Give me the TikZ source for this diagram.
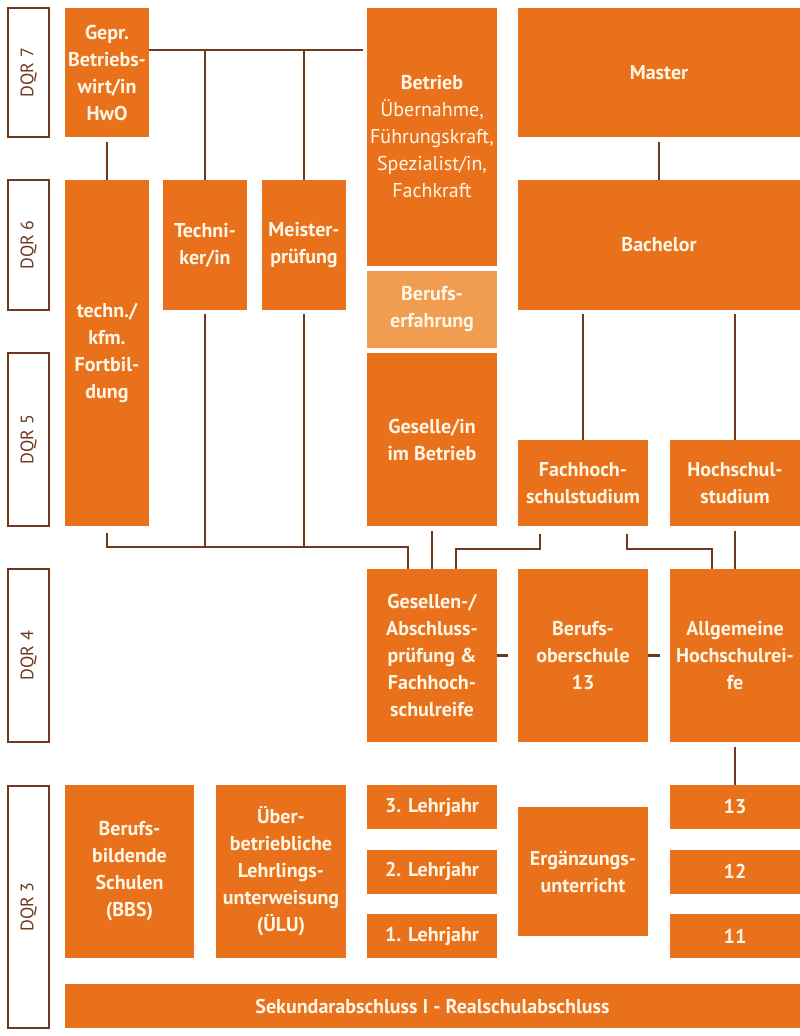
\documentclass[tikz,border=0pt]{standalone}
\usepackage{fontspec}
\setmainfont{PT Sans}
\usepackage{xcolor}
\usepackage{graphicx}
\usetikzlibrary{positioning,calc}

\definecolor{dqrorange}{RGB}{233,113,28}
\definecolor{dqrlight}{RGB}{240,157,82}
\definecolor{dqrbrown}{RGB}{110,58,30}
\definecolor{dqrtext}{RGB}{255,246,230}

\begin{document}
\begin{tikzpicture}[x=1pt, y=-1pt,
  box/.style={fill=dqrorange, text=dqrtext, font=\fontsize{20}{27}\selectfont\bfseries,
    align=center, inner sep=0pt, outer sep=0pt},
  level/.style={draw=dqrbrown, line width=1.6pt, fill=white, text=dqrbrown,
    font=\fontsize{18}{20}\selectfont, inner sep=0pt, minimum width=41pt},
  link/.style={draw=dqrbrown, line width=2.6pt}]
  \useasboundingbox (0,0) rectangle (800,1036);

  % DQR levels
  \node[level, minimum height=129pt] (dqr7) at (28.5,72.5) {\rotatebox{90}{DQR 7}};
  \node[level, minimum height=130pt] (dqr6) at (28.5,245) {\rotatebox{90}{DQR 6}};
  \node[level, minimum height=173pt] (dqr5) at (28.5,439.5) {\rotatebox{90}{DQR 5}};
  \node[level, minimum height=173pt] (dqr4) at (28.5,655.5) {\rotatebox{90}{DQR 4}};
  \node[level, minimum height=242pt] (dqr3) at (28.5,907) {\rotatebox{90}{DQR 3}};

  % Fortbildung (left columns)
  \node[box, minimum width=84pt, minimum height=129pt] (gepr) at (107,72.5) {Gepr.\\Betriebs-\\wirt/in\\HwO};
  \node[box, minimum width=84pt, minimum height=346pt] (fortb) at (107,353) {techn./\\kfm.\\Fortbil-\\dung};
  \node[box, minimum width=84pt, minimum height=130pt] (techn) at (205,245) {Techni-\\ker/in};
  \node[box, minimum width=84pt, minimum height=130pt] (meister) at (304,245) {Meister-\\prüfung};

  % Betrieb column
  \node[box, minimum width=130pt, minimum height=258pt] (betrieb) at (432,137)
    {Betrieb\\{\mdseries Übernahme,}\\{\mdseries Führungskraft,}\\{\mdseries Spezialist/in,}\\{\mdseries Fachkraft}};
  \node[box, fill=dqrlight, minimum width=130pt, minimum height=77pt] (erfahr) at (432,309.5) {Berufs-\\erfahrung};
  \node[box, minimum width=130pt, minimum height=173pt] (geselle) at (432,439.5) {Geselle/in\\im Betrieb};

  % Hochschule
  \node[box, minimum width=282pt, minimum height=129pt] (master) at (659,72.5) {Master};
  \node[box, minimum width=282pt, minimum height=130pt] (bachelor) at (659,245) {Bachelor};
  \node[box, minimum width=130pt, minimum height=86pt] (fhstud) at (583,483) {Fachhoch-\\schulstudium};
  \node[box, minimum width=130pt, minimum height=86pt] (hstud) at (735,483) {Hochschul-\\studium};

  % DQR 4
  \node[box, minimum width=130pt, minimum height=173pt] (gpruef) at (432,655.5) {Gesellen-/\\Abschluss-\\prüfung \&\\Fachhoch-\\schulreife};
  \node[box, minimum width=130pt, minimum height=173pt] (bos) at (583,655.5) {Berufs-\\oberschule\\13};
  \node[box, minimum width=130pt, minimum height=173pt] (ahr) at (735,655.5) {Allgemeine\\Hochschulrei-\\fe};

  % DQR 3
  \node[box, minimum width=129pt, minimum height=173pt] (bbs) at (129.5,871.5) {Berufs-\\bildende\\Schulen\\(BBS)};
  \node[box, minimum width=130pt, minimum height=173pt] (uelu) at (281,871.5) {Über-\\betriebliche\\Lehrlings-\\unterweisung\\(ÜLU)};
  \node[box, minimum width=130pt, minimum height=44pt] (lj3) at (432,807) {3. Lehrjahr};
  \node[box, minimum width=130pt, minimum height=44pt] (lj2) at (432,871.5) {2. Lehrjahr};
  \node[box, minimum width=130pt, minimum height=44pt] (lj1) at (432,936) {1. Lehrjahr};
  \node[box, minimum width=130pt, minimum height=129pt] (ergaenz) at (583,871.5) {Ergänzungs-\\unterricht};
  \node[box, minimum width=130pt, minimum height=44pt] (k13) at (735,807) {13};
  \node[box, minimum width=130pt, minimum height=44pt] (k12) at (735,871.5) {12};
  \node[box, minimum width=130pt, minimum height=44pt] (k11) at (735,936) {11};
  \node[box, minimum width=735pt, minimum height=44pt] (sek) at (432.5,1006) {Sekundarabschluss I - Realschulabschluss};

  % Connections top
  \draw[link] (gepr.east |- 0,50) -- ([xshift=-4pt]betrieb.west |- 0,50);
  \draw[link] (techn.north) -- (techn.north |- 0,50);
  \draw[link] (meister.north) -- (meister.north |- 0,50);
  \draw[link, shorten <=5pt] (gepr.south) -- (fortb.north);
  \draw[link, shorten <=5pt] (master.south) -- (bachelor.north);
  \draw[link, shorten <=4pt] (bachelor.south -| fhstud.north) -- (fhstud.north);
  \draw[link, shorten <=4pt] (bachelor.south -| hstud.north) -- (hstud.north);

  % Connections to DQR 4
  \draw[link] ([yshift=-7pt]fortb.south) -- (fortb.south |- 0,547) -- ([xshift=41pt]gpruef.north west |- 0,547) -- ([xshift=41pt]gpruef.north west);
  \draw[link, shorten <=4pt] (techn.south) -- (techn.south |- 0,547);
  \draw[link, shorten <=4pt] (meister.south) -- (meister.south |- 0,547);
  \draw[link, shorten <=5pt] (geselle.south) -- (gpruef.north);
  \draw[link] ([xshift=-43pt,yshift=-8pt]fhstud.south) -- ([xshift=-43pt]fhstud.south |- 0,549) -- ([xshift=24pt]gpruef.north |- 0,549) -- ([xshift=24pt]gpruef.north);
  \draw[link] ([xshift=44pt,yshift=-8pt]fhstud.south) -- ([xshift=44pt]fhstud.south |- 0,549) -- ([xshift=-23pt]ahr.north |- 0,549) -- ([xshift=-23pt]ahr.north);
  \draw[link, shorten <=5pt] (hstud.south) -- (ahr.north);
  \draw[link] (gpruef.east) -- ([xshift=-10pt]bos.west);
  \draw[link] (bos.east) -- ([xshift=-10pt]ahr.west);
  \draw[link, shorten <=5pt] (ahr.south) -- (k13.north);
\end{tikzpicture}
\end{document}
